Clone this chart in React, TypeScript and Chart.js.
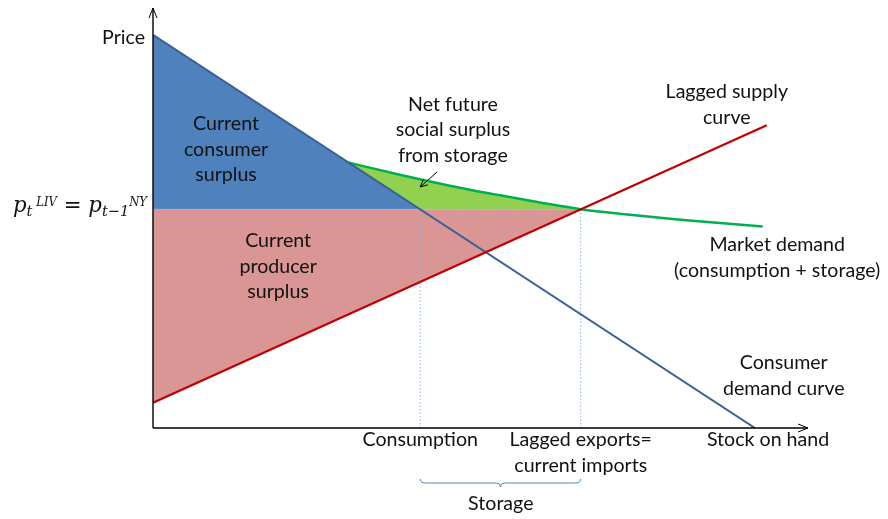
import React, { useEffect, useRef } from "react";
import { Chart, registerables } from "chart.js";
Chart.register(...registerables);

// ---- data (axis units: quantity 0..10, price 0..10) ----
const PRICE = 5.21; // p_t^LIV = p_{t-1}^NY
const CONSUMPTION = 4.08; // where consumer demand meets price
const LAGGED_EXPORTS = 6.53; // where lagged supply meets price
const demandX = [0, 9.19];
const demandY = [9.36, 0];
const supplyX = [0, 9.37];
const supplyY = [0.6, 7.21];
const marketX = [2.93, 3.77, 4.53, 5.3, 5.91, 6.53, 7.28, 8.05, 9.31];
const marketY = [6.34, 6.03, 5.77, 5.54, 5.37, 5.21, 5.08, 4.96, 4.8];

const FONT = "Lato, 'Open Sans', sans-serif";
const MATH_FONT = "'DejaVu Serif', 'Liberation Serif', serif";

const pts = (xs: number[], ys: number[]) => xs.map((x, i) => ({ x, y: ys[i] }));

const labels = [
  { lines: ["Current", "consumer", "surplus"], x: 1.115, y: 7.24 },
  { lines: ["Current", "producer", "surplus"], x: 1.91, y: 4.45 },
  { lines: ["Net future", "social surplus", "from storage"], x: 4.58, y: 7.71 },
  { lines: ["Lagged supply", "curve"], x: 8.76, y: 8.0 },
  { lines: ["Market demand", "(consumption + storage)"], x: 9.53, y: 4.36 },
  { lines: ["Consumer", "demand curve"], x: 9.63, y: 1.55 },
  { lines: ["Stock on hand"], x: 9.39, y: -0.286 },
  { lines: ["Consumption"], x: CONSUMPTION, y: -0.286 },
  { lines: ["Lagged exports=", "current imports"], x: LAGGED_EXPORTS, y: -0.286 },
  { lines: ["Storage"], x: 5.31, y: -1.79 },
];

const overlay = {
  id: "overlay",
  afterDatasetsDraw(chart: any) {
    const ctx: CanvasRenderingContext2D = chart.ctx;
    const xs = chart.scales.x;
    const ys = chart.scales.y;
    const X = (v: number) => xs.getPixelForValue(v);
    const Y = (v: number) => ys.getPixelForValue(v);
    ctx.save();
    const x0 = X(0), y0 = Y(0), xEnd = X(10), yEnd = Y(10);
    // axes
    ctx.strokeStyle = "#000";
    ctx.lineWidth = 1.4;
    ctx.beginPath();
    ctx.moveTo(x0, y0);
    ctx.lineTo(xEnd, y0);
    ctx.moveTo(x0, y0);
    ctx.lineTo(x0, yEnd);
    ctx.stroke();
    ctx.lineWidth = 1;
    ctx.beginPath();
    ctx.moveTo(xEnd - 10, y0 - 4);
    ctx.lineTo(xEnd, y0);
    ctx.lineTo(xEnd - 10, y0 + 4);
    ctx.moveTo(x0 - 4, yEnd + 10);
    ctx.lineTo(x0, yEnd);
    ctx.lineTo(x0 + 4, yEnd + 10);
    ctx.stroke();

    // pointer arrow to green area
    const ax1 = X(4.34), ay1 = Y(6.1), ax2 = X(4.08), ay2 = Y(5.74);
    ctx.beginPath();
    ctx.moveTo(ax1, ay1);
    ctx.lineTo(ax2, ay2);
    const ang = Math.atan2(ay2 - ay1, ax2 - ax1);
    const hl = 8;
    ctx.moveTo(ax2 - hl * Math.cos(ang - 0.45), ay2 - hl * Math.sin(ang - 0.45));
    ctx.lineTo(ax2, ay2);
    ctx.lineTo(ax2 - hl * Math.cos(ang + 0.45), ay2 - hl * Math.sin(ang + 0.45));
    ctx.stroke();

    // brace under storage
    const bl = X(CONSUMPTION), br = X(LAGGED_EXPORTS), bm = (bl + br) / 2;
    const bt = y0 + 51, bh = y0 + 55, bp = y0 + 59;
    ctx.strokeStyle = "#4F81BD";
    ctx.lineWidth = 1;
    ctx.beginPath();
    ctx.moveTo(bl, bt);
    ctx.quadraticCurveTo(bl, bh, bl + 5, bh);
    ctx.lineTo(bm - 4, bh);
    ctx.quadraticCurveTo(bm, bh, bm, bp);
    ctx.quadraticCurveTo(bm, bh, bm + 4, bh);
    ctx.lineTo(br - 5, bh);
    ctx.quadraticCurveTo(br, bh, br, bt);
    ctx.stroke();

    // text labels
    ctx.fillStyle = "#111";
    ctx.font = `19.6px ${FONT}`;
    ctx.textAlign = "center";
    ctx.textBaseline = "middle";
    const lh = 25.5;
    labels.forEach((l) => {
      l.lines.forEach((s, i) => ctx.fillText(s, X(l.x), Y(l.y) + i * lh));
    });
    ctx.textAlign = "right";
    ctx.fillText("Price", x0 - 8, Y(9.29));

    // price label  p_t^LIV = p_{t-1}^NY
    const parts = [
      { t: "p", size: 22, dy: 0, it: true, gap: 0 },
      { t: "t", size: 15, dy: 3.5, it: true, gap: 0 },
      { t: "LIV", size: 12, dy: -6.5, it: true, gap: 4 },
      { t: "=", size: 22, dy: 0, it: false, gap: 7 },
      { t: "p", size: 22, dy: 0, it: true, gap: 7 },
      { t: "t\u22121", size: 15, dy: 3.5, it: true, gap: 0 },
      { t: "NY", size: 12, dy: -6.5, it: true, gap: 0 },
    ];
    ctx.textAlign = "left";
    ctx.textBaseline = "alphabetic";
    const widths = parts.map((p) => {
      ctx.font = `${p.it ? "italic " : ""}${p.size}px ${MATH_FONT}`;
      return ctx.measureText(p.t).width;
    });
    const natural = widths.reduce((a, b) => a + b, 0) + parts.reduce((a, p) => a + p.gap, 0);
    const target = 134;
    const sx = Math.max(0.8, Math.min(1.3, target / natural));
    const right = x0 - 6;
    const base = Y(PRICE) + 3;
    ctx.save();
    ctx.translate(right - natural * sx, 0);
    ctx.scale(sx, 1);
    let cx = 0;
    parts.forEach((p, i) => {
      cx += p.gap;
      ctx.font = `${p.it ? "italic " : ""}${p.size}px ${MATH_FONT}`;
      ctx.fillText(p.t, cx, base + p.dy);
      cx += widths[i];
    });
    ctx.restore();
    ctx.restore();
  },
};

export default function App() {
  const ref = useRef<HTMLCanvasElement>(null);
  useEffect(() => {
    if (!ref.current) return;
    const dotted = (xa: number[], ya: number[]) => ({
      data: pts(xa, ya),
      showLine: true,
      borderColor: "#8EB4E3",
      borderWidth: 1,
      borderDash: [1.5, 2],
      pointRadius: 0,
      fill: false,
      order: 7,
    });
    const nFill = marketX.indexOf(LAGGED_EXPORTS) + 1;
    const chart = new Chart(ref.current, {
      type: "scatter",
      data: {
        datasets: [
          {
            // current producer surplus
            data: pts([0, LAGGED_EXPORTS, 0, 0], [PRICE, PRICE, supplyY[0], PRICE]),
            showLine: true,
            borderWidth: 0,
            borderColor: "rgba(0,0,0,0)",
            backgroundColor: "#D99694",
            fill: "shape",
            pointRadius: 0,
            order: 10,
          } as any,
          {
            // net future social surplus (green area above price)
            data: pts(marketX.slice(0, nFill), marketY.slice(0, nFill)),
            showLine: true,
            borderWidth: 0,
            borderColor: "rgba(0,0,0,0)",
            cubicInterpolationMode: "monotone",
            fill: { target: { value: PRICE }, above: "#92D050", below: "rgba(0,0,0,0)" },
            pointRadius: 0,
            order: 9,
          } as any,
          {
            // current consumer surplus
            data: pts([0, CONSUMPTION, 0, 0], [demandY[0], PRICE, PRICE, demandY[0]]),
            showLine: true,
            borderWidth: 0,
            borderColor: "rgba(0,0,0,0)",
            backgroundColor: "#4F81BD",
            fill: "shape",
            pointRadius: 0,
            order: 8,
          } as any,
          dotted([0, LAGGED_EXPORTS], [PRICE, PRICE]),
          dotted([CONSUMPTION, CONSUMPTION], [0, PRICE]),
          dotted([LAGGED_EXPORTS, LAGGED_EXPORTS], [0, PRICE]),
          {
            // market demand
            data: pts(marketX, marketY),
            showLine: true,
            borderColor: "#00B050",
            borderWidth: 2.5,
            cubicInterpolationMode: "monotone",
            fill: false,
            pointRadius: 0,
            order: 4,
          } as any,
          {
            // consumer demand
            data: pts(demandX, demandY),
            showLine: true,
            borderColor: "#3B5F96",
            borderWidth: 2,
            fill: false,
            pointRadius: 0,
            order: 3,
          },
          {
            // lagged supply
            data: pts(supplyX, supplyY),
            showLine: true,
            borderColor: "#C00000",
            borderWidth: 2.2,
            fill: false,
            pointRadius: 0,
            order: 2,
          },
        ],
      },
      options: {
        animation: false,
        responsive: true,
        maintainAspectRatio: false,
        layout: { padding: { left: 153, right: 80, top: 8, bottom: 91 } },
        scales: {
          x: { type: "linear", min: 0, max: 10, display: false },
          y: { type: "linear", min: 0, max: 10, display: false },
        },
        plugins: { legend: { display: false }, tooltip: { enabled: false } },
        events: [],
      },
      plugins: [overlay],
    });
    return () => chart.destroy();
  }, []);
  return (
    <div style={{ position: "fixed", left: 0, top: 0, width: 888, height: 519, background: "#fff" }}>
      <canvas ref={ref} />
    </div>
  );
}
